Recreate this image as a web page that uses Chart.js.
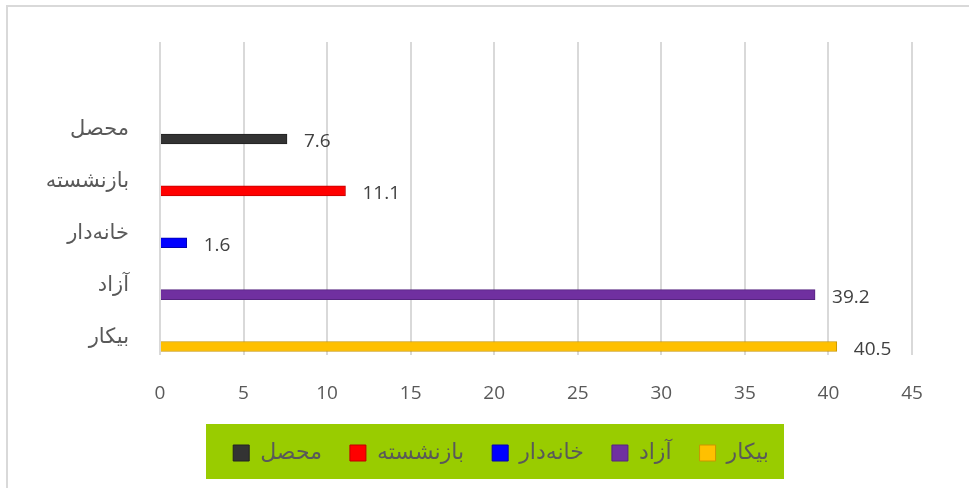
<!DOCTYPE html>
<html><head><meta charset="utf-8">
<script src="https://cdn.jsdelivr.net/npm/chart.js@4/dist/chart.umd.min.js"></script>
<style>
html,body{margin:0;padding:0;background:#fff;overflow:hidden;}
#frame{position:absolute;left:6px;top:5px;width:1000px;height:1000px;border:2px solid #d9d9d9;}
#wrap{position:absolute;left:0;top:0;width:969px;height:488px;}
</style></head><body>
<div id="frame"></div>
<div id="wrap"><canvas id="c" width="969" height="488"></canvas></div>
<script>
// Categories on the vertical axis, top to bottom
const categories = ['محصل', 'بازنشسته', 'خانه‌دار', 'آزاد', 'بیکار'];
// Series (legend order, right to left in the picture)
const seriesNames = ['بیکار', 'آزاد', 'خانه‌دار', 'بازنشسته', 'محصل'];
const seriesValues = [40.5, 39.2, 1.6, 11.1, 7.6];
const xTickValues = [0, 5, 10, 15, 20, 25, 30, 35, 40, 45];

const seriesColors = ['#FFC000', '#7030A0', '#0000FF', '#FF0000', '#333333'];
const seriesBorders = ['#C89600', '#562480', '#0000B0', '#C00000', '#222222'];

const FONT = "'Open Sans', 'DejaVu Sans', sans-serif";
const ARFONT = "'DejaVu Sans', 'Open Sans', sans-serif";

const datasets = seriesNames.map((name, i) => ({
  label: name,
  data: [{ x: seriesValues[i], y: categories.indexOf(name) }],
  backgroundColor: seriesColors[i],
  borderColor: seriesBorders[i],
  borderWidth: 1,
  barThickness: 10,
  grouped: false
}));

const valueLabels = {
  id: 'valueLabels',
  afterDatasetsDraw(chart) {
    const ctx = chart.ctx;
    ctx.save();
    ctx.font = '19px ' + FONT;
    ctx.fillStyle = '#404040';
    ctx.textAlign = 'left';
    ctx.textBaseline = 'middle';
    chart.data.datasets.forEach((ds, di) => {
      const meta = chart.getDatasetMeta(di);
      meta.data.forEach((el, j) => {
        const v = ds.data[j].x;
        ctx.fillText(String(v), el.x + 17, el.y + 3);
      });
    });
    ctx.restore();
  }
};

const legendShift = {
  id: 'legendShift',
  afterLayout(chart) {
    const lg = chart.legend;
    if (!lg) return;
    lg.left -= 35;
    lg.right -= 35;
  }
};

const legendBg = {
  id: 'legendBg',
  beforeDraw(chart) {
    const lg = chart.legend;
    if (!lg || !lg.legendHitBoxes || !lg.legendHitBoxes.length) return;
    const hb = lg.legendHitBoxes;
    let l = Infinity, r = -Infinity, t = Infinity, b = -Infinity;
    hb.forEach(h => { l = Math.min(l, h.left); r = Math.max(r, h.left + h.width); t = Math.min(t, h.top); b = Math.max(b, h.top + h.height); });
    const cx = (l + r) / 2, cy = (t + b) / 2;
    const ctx = chart.ctx;
    ctx.save();
    ctx.fillStyle = '#99CC00';
    ctx.fillRect(Math.round(cx - 295), Math.round(cy - 29), 578, 55);
    ctx.restore();
  }
};

new Chart(document.getElementById('c'), {
  type: 'bar',
  data: { datasets },
  plugins: [legendShift, legendBg, valueLabels],
  options: {
    responsive: false,
    animation: false,
    devicePixelRatio: 1,
    indexAxis: 'y',
    layout: { padding: { left: 0, right: 57, top: 42, bottom: 14 } },
    scales: {
      x: {
        type: 'linear',
        min: 0,
        max: 45,
        afterBuildTicks(s) { s.ticks = xTickValues.map(v => ({ value: v })); },
        ticks: { color: '#595959', font: { family: FONT, size: 19 }, padding: 27 },
        grid: { color: '#d9d9d9', lineWidth: 2, drawTicks: false },
        border: { display: false },
        afterFit(s) { s.height = 59; }
      },
      y: {
        type: 'linear',
        reverse: true,
        offset: false,
        min: -1.87,
        max: categories.length - 1 + 0.164,
        afterBuildTicks(s) { s.ticks = categories.map((c, i) => ({ value: i })); },
        ticks: {
          callback: (v) => categories[v],
          color: '#595959',
          font: { family: ARFONT, size: 21 },
          padding: 23,
          labelOffset: -9
        },
        grid: { display: false, offset: false },
        border: { display: false },
        afterFit(s) { s.width = 160; }
      }
    },
    plugins: {
      legend: {
        position: 'bottom',
        fullSize: false,
        reverse: true,
        labels: {
          color: '#595959',
          font: { family: ARFONT, size: 22 },
          boxWidth: 16,
          boxHeight: 16,
          padding: 28
        }
      },
      tooltip: { enabled: false }
    }
  }
});
</script>
</body></html>
